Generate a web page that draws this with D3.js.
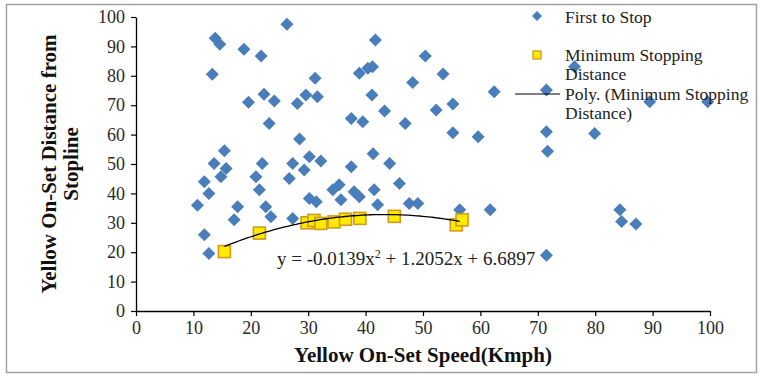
<!DOCTYPE html>
<html>
<head>
<meta charset="utf-8">
<script src="https://cdn.jsdelivr.net/npm/d3@7"></script>
<style>
  body { margin: 0; background: #fff; }
  text { font-family: "Liberation Serif", "Times New Roman", serif; }
</style>
</head>
<body>
<div id="chart"></div>
<script>
// First to Stop observations (speed, distance)
let firstSpeed = [26.3, 13.8, 14.6, 18.8, 21.8, 13.3, 31.2, 22.3, 24.1, 19.6, 28.1, 29.6, 31.6, 23.2, 28.5,
    15.4, 30.2, 32.2, 41.7, 50.4, 40.4, 38.9, 41.2, 53.5, 48.2, 62.4, 41.1, 43.3, 37.5, 39.5,
    52.3, 55.2, 46.9, 55.2, 59.6, 41.3, 76.4, 71.5, 89.5, 99.6, 71.5, 79.9, 71.7, 84.3, 84.6,
    87.1, 71.5, 13.6, 15.7, 14.8, 11.9, 12.7, 10.7, 22.0, 20.9, 21.5, 17.7, 17.1, 22.6, 23.5,
    27.3, 29.3, 26.7, 30.2, 31.4, 27.3, 11.9, 12.7, 37.5, 44.2, 34.3, 35.4, 35.7, 38.0, 38.9,
    41.5, 42.1, 45.9, 47.6, 49.1, 56.4, 61.7];
let firstDist = [97.5, 92.8, 90.7, 89.0, 86.7, 80.5, 79.2, 73.7, 71.4, 71.0, 70.6, 73.5, 72.9, 63.8, 58.5,
    54.5, 52.5, 51.0, 92.2, 86.7, 82.6, 80.9, 83.1, 80.6, 77.7, 74.6, 73.5, 68.0, 65.5, 64.4,
    68.4, 70.4, 63.8, 60.6, 59.3, 53.5, 83.1, 75.2, 71.2, 71.2, 61.0, 60.4, 54.3, 34.4, 30.4,
    29.6, 19.0, 50.2, 48.5, 45.7, 44.0, 40.0, 36.0, 50.2, 45.7, 41.2, 35.5, 31.0, 35.5, 32.1,
    50.2, 48.0, 45.1, 38.3, 37.2, 31.5, 25.9, 19.6, 49.1, 50.2, 41.2, 42.9, 37.8, 40.6, 38.9,
    41.2, 36.1, 43.4, 36.6, 36.6, 34.4, 34.4];

// Minimum Stopping Distance observations
let minSpeed = [15.4, 21.5, 29.8, 31.0, 32.2, 34.5, 36.5, 39.0, 45.0, 55.8, 56.8];
let minDist = [20.2, 26.5, 30.0, 30.8, 29.8, 30.3, 31.2, 31.5, 32.2, 29.3, 31.0];

// Polynomial trendline coefficients (x^2, x, constant)
let trendCoef = [-0.0139, 1.2052, 6.6897];

let xTicks = [0, 10, 20, 30, 40, 50, 60, 70, 80, 90, 100];
let yTicks = [0, 10, 20, 30, 40, 50, 60, 70, 80, 90, 100];

let width = 762, height = 378;
let plot = {left: 136, right: 710, top: 17, bottom: 311};
let serif = "'Liberation Serif', 'Times New Roman', serif";

let svg = d3.select("#chart")
    .append("svg")
    .attr("width", width)
    .attr("height", height);

// Outer chart frame
svg.append("rect")
    .attr("x", 6.5).attr("y", 4.5)
    .attr("width", 750).attr("height", 368)
    .attr("fill", "none")
    .attr("stroke", "#a3a3a3")
    .attr("stroke-width", 1.5);

let x = d3.scaleLinear().domain([0, 100]).range([plot.left, plot.right]);
let y = d3.scaleLinear().domain([0, 100]).range([plot.bottom, plot.top]);

// Axes
let xAxis = svg.append("g")
    .attr("transform", `translate(0, ${plot.bottom})`)
    .call(d3.axisBottom(x).tickValues(xTicks).tickSize(5).tickSizeOuter(0).tickPadding(5));
let yAxis = svg.append("g")
    .attr("transform", `translate(${plot.left}, 0)`)
    .call(d3.axisLeft(y).tickValues(yTicks).tickSize(5).tickSizeOuter(0).tickPadding(6));

[xAxis, yAxis].forEach(function(a) {
    a.attr("font-family", serif).attr("font-size", 18);
    a.select(".domain").attr("stroke", "#000").attr("stroke-width", 1.3);
    a.selectAll(".tick line").attr("stroke", "#000").attr("stroke-width", 1.2);
    a.selectAll(".tick text").attr("fill", "#2a2a2a");
});

// Axis titles
svg.append("text")
    .attr("x", (plot.left + plot.right) / 2)
    .attr("y", 362)
    .style("text-anchor", "middle")
    .style("font-size", "21px")
    .style("font-weight", "bold")
    .attr("fill", "#111")
    .text("Yellow On-Set Speed(Kmph)");

let yTitle = svg.append("text")
    .attr("transform", `translate(56, ${(plot.top + plot.bottom) / 2}) rotate(-90)`)
    .style("text-anchor", "middle")
    .style("font-size", "21px")
    .style("font-weight", "bold")
    .attr("fill", "#111");
yTitle.append("tspan").attr("x", 0).attr("dy", 0).text("Yellow On-Set Distance from");
yTitle.append("tspan").attr("x", 0).attr("dy", 22).text("Stopline");

// Diamond marker path
let diamond = function(r) {
    return `M0,${-r}L${r},0L0,${r}L${-r},0Z`;
};

// First to Stop points
let firstData = firstSpeed.map(function(s, i) { return {s: s, d: firstDist[i]}; });
svg.append("g").selectAll("path")
    .data(firstData)
    .enter()
    .append("path")
    .attr("d", diamond(6.5))
    .attr("transform", function(d) { return `translate(${x(d.s)}, ${y(d.d)})`; })
    .attr("fill", "#4a7ebb");

// Minimum stopping squares
let minData = minSpeed.map(function(s, i) { return {s: s, d: minDist[i]}; });
svg.append("g").selectAll("rect")
    .data(minData)
    .enter()
    .append("rect")
    .attr("x", function(d) { return x(d.s) - 6; })
    .attr("y", function(d) { return y(d.d) - 6; })
    .attr("width", 12)
    .attr("height", 12)
    .attr("fill", "#ffea00")
    .attr("stroke", "#d09a1e")
    .attr("stroke-width", 1.6);

// Polynomial trendline across the range of the minimum stopping data
let trendX = d3.range(d3.min(minSpeed), d3.max(minSpeed) + 0.01, 0.5);
let line = d3.line()
    .x(function(v) { return x(v); })
    .y(function(v) { return y(trendCoef[0] * v * v + trendCoef[1] * v + trendCoef[2]); });
svg.append("path")
    .datum(trendX)
    .attr("d", line)
    .attr("fill", "none")
    .attr("stroke", "#000")
    .attr("stroke-width", 1.3);

// Trendline equation
let eq = svg.append("text")
    .attr("x", 277)
    .attr("y", 265)
    .style("font-size", "19px")
    .attr("fill", "#222");
eq.append("tspan").text("y = -0.0139x");
eq.append("tspan").attr("dy", -7).style("font-size", "12px").text("2");
eq.append("tspan").attr("dy", 7).text(" + 1.2052x + 6.6897");

// Legend
let legend = svg.append("g");
legend.append("path")
    .attr("d", diamond(5))
    .attr("transform", "translate(537, 16)")
    .attr("fill", "#4a7ebb");
legend.append("rect")
    .attr("x", 533).attr("y", 51)
    .attr("width", 8).attr("height", 8)
    .attr("fill", "#ffea00")
    .attr("stroke", "#d09a1e")
    .attr("stroke-width", 1.3);
legend.append("line")
    .attr("x1", 515).attr("x2", 560)
    .attr("y1", 94).attr("y2", 94)
    .attr("stroke", "#000")
    .attr("stroke-width", 1.2);

let legendText = [
    {t: "First to Stop", y: 23},
    {t: "Minimum Stopping", y: 61},
    {t: "Distance", y: 80},
    {t: "Poly. (Minimum Stopping", y: 100},
    {t: "Distance)", y: 119}
];
legend.selectAll("text.lg")
    .data(legendText)
    .enter()
    .append("text")
    .attr("x", 565)
    .attr("y", function(d) { return d.y; })
    .style("font-size", "17.5px")
    .attr("fill", "#222")
    .text(function(d) { return d.t; });
</script>
</body>
</html>
